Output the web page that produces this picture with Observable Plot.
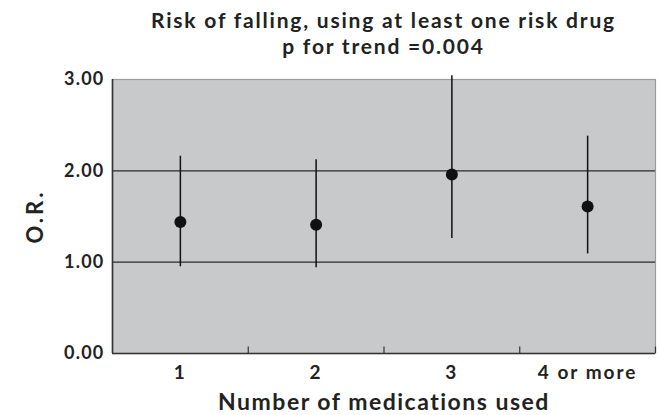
<!DOCTYPE html>
<html>
<head>
<meta charset="utf-8">
<script src="https://cdn.jsdelivr.net/npm/d3@7"></script>
<script src="https://cdn.jsdelivr.net/npm/@observablehq/plot@0.6"></script>
<style>
  html, body { margin: 0; padding: 0; background: #fff; }
  #wrap { width: 659px; height: 415px; position: relative; font-family: Lato, "Noto Sans", sans-serif; color: #222; }
  #title { margin-left: 112px; width: 543px; height: 62px; text-align: center; font-weight: bold; font-size: 21px; line-height: 25.5px; letter-spacing: 1.8px; padding-top: 7px; box-sizing: border-box; white-space: nowrap; }
  #chart svg [aria-label="y-axis tick label"] { letter-spacing: 1.2px; }
  #chart svg [aria-label="x-axis tick label"] { letter-spacing: 2px; }
</style>
</head>
<body>
<div id="wrap">
  <div id="title">Risk of falling, using at least one risk drug<br>p for trend =0.004</div>
  <div id="chart"></div>
</div>
<script>
const categories = ["1", "2", "3", "4 or more"];
const oddsRatio = [1.44, 1.41, 1.96, 1.61];
const lowerCI = [0.95, 0.94, 1.26, 1.09];
const upperCI = [2.16, 2.12, 3.04, 2.38];
const yTicks = [0, 1, 2, 3];
const gridLines = [1, 2];
const separators = [1.5, 2.5, 3.5, 4.5];
const yLabel = "O.R.";
const xLabel = "Number of medications used";

const data = categories.map((c, i) => ({pos: i + 1, label: c, or: oddsRatio[i], lo: lowerCI[i], hi: upperCI[i]}));

const chart = Plot.plot({
  width: 659,
  height: 353,
  marginTop: 17,
  marginBottom: 62,
  marginLeft: 112,
  marginRight: 4,
  style: {fontFamily: "Lato, 'Noto Sans', sans-serif", fontWeight: "bold", color: "#222", background: "transparent", overflow: "visible"},
  x: {type: "linear", domain: [0.5, 4.5], axis: null},
  y: {domain: [0, 3], axis: null},
  marks: [
    Plot.frame({fill: "#c8c9cb", stroke: "#9a9a9a", strokeWidth: 1.2}),
    Plot.ruleY(gridLines, {stroke: "#2a2a2a", strokeWidth: 1.3}),
    Plot.ruleY([0], {stroke: "#333", strokeWidth: 1.6}),
    Plot.ruleX([0.5], {stroke: "#333", strokeWidth: 1.6}),
    Plot.ruleX(separators, {y1: 0, y2: 0.07, stroke: "#333", strokeWidth: 1.2}),
    Plot.ruleX(data, {x: "pos", y1: "lo", y2: "hi", stroke: "#111", strokeWidth: 1.5}),
    Plot.dot(data, {x: "pos", y: "or", r: 6, fill: "#111", stroke: null}),
    Plot.axisY({ticks: yTicks, tickFormat: d3.format(".2f"), tickSize: 0, tickPadding: 8, fontSize: 18, label: null}),
    Plot.axisX({ticks: data.map(d => d.pos), tickFormat: p => categories[p - 1], tickSize: 0, tickPadding: 12, fontSize: 19, label: null}),
    Plot.text([yLabel], {frameAnchor: "left", textAnchor: "middle", dx: -77, rotate: -90, fontSize: 22, fontWeight: "bold", fill: "#222"}),
    Plot.text([xLabel], {frameAnchor: "bottom", textAnchor: "middle", lineAnchor: "bottom", dy: 56, fontSize: 23, fontWeight: "bold", fill: "#222"})
  ]
});
d3.select(chart).selectAll("text").filter(function() { return this.textContent === xLabel; }).attr("letter-spacing", "1.5px");
d3.select(chart).selectAll("text").filter(function() { return this.textContent === yLabel; }).attr("letter-spacing", "3px");
document.getElementById("chart").appendChild(chart);
</script>
</body>
</html>
